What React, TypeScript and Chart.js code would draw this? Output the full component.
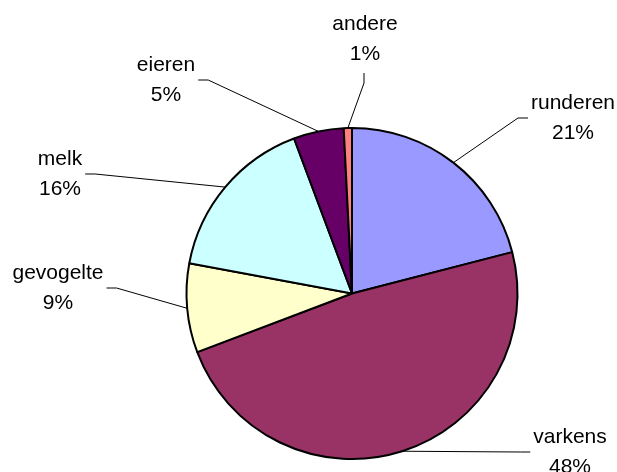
import React, { useEffect, useRef } from "react";
import { Chart, registerables } from "chart.js";

Chart.register(...registerables);

const categories = ["runderen", "varkens", "gevogelte", "melk", "eieren", "andere"];
const values = [21.0, 48.3, 8.7, 16.4, 4.9, 0.8];
const colors = ["#9999FF", "#993366", "#FFFFCC", "#CCFFFF", "#660066", "#FF8080"];

// label layout: center x, center y of the two-line block, side the leader leaves from
const labelLayout: Record<string, { cx: number; cy: number; side: "left" | "right" | "bottom" }> = {
  runderen: { cx: 573, cy: 118, side: "left" },
  varkens: { cx: 570, cy: 452, side: "left" },
  gevogelte: { cx: 58, cy: 288, side: "right" },
  melk: { cx: 60, cy: 174, side: "right" },
  eieren: { cx: 166, cy: 80, side: "right" },
  andere: { cx: 365, cy: 39, side: "bottom" },
};

const FONT = '21px "Liberation Sans", Arial, sans-serif';
const LINE_H = 30;

const labelPlugin = {
  id: "excelLabels",
  afterDatasetsDraw(chart: any) {
    const ctx = chart.ctx;
    const meta = chart.getDatasetMeta(0);
    const data = chart.data.datasets[0].data as number[];
    const total = data.reduce((a, b) => a + b, 0);
    ctx.save();
    ctx.font = FONT;
    ctx.fillStyle = "#000";
    ctx.strokeStyle = "#000";
    ctx.lineWidth = 1;
    ctx.textAlign = "center";
    ctx.textBaseline = "middle";
    meta.data.forEach((arc: any, i: number) => {
      const name = chart.data.labels[i];
      const lay = labelLayout[name];
      if (!lay) return;
      const p = arc.getProps(["x", "y", "startAngle", "endAngle", "outerRadius"], true);
      const mid = (p.startAngle + p.endAngle) / 2;
      const ax = p.x + Math.cos(mid) * p.outerRadius;
      const ay = p.y + Math.sin(mid) * p.outerRadius;
      const pct = Math.round((data[i] / total) * 100) + "%";
      const w = Math.max(ctx.measureText(name).width, ctx.measureText(pct).width);
      ctx.fillText(name, lay.cx, lay.cy - LINE_H / 2);
      ctx.fillText(pct, lay.cx, lay.cy + LINE_H / 2);
      let sx: number, sy: number, ex: number, ey: number;
      const gap = 3;
      const elbow = 10;
      if (lay.side === "left") {
        sx = lay.cx - w / 2 - gap;
        sy = lay.cy;
        ex = sx - elbow;
        ey = sy;
      } else if (lay.side === "right") {
        sx = lay.cx + w / 2 + gap;
        sy = lay.cy;
        ex = sx + elbow;
        ey = sy;
      } else {
        sx = lay.cx - 1;
        sy = lay.cy + LINE_H + 4;
        ex = sx;
        ey = sy + elbow;
      }
      ctx.beginPath();
      ctx.moveTo(sx, sy);
      ctx.lineTo(ex, ey);
      ctx.lineTo(ax, ay);
      ctx.stroke();
    });
    ctx.restore();
  },
};

export default function App() {
  const ref = useRef<HTMLCanvasElement | null>(null);
  useEffect(() => {
    if (!ref.current) return;
    const chart = new Chart(ref.current, {
      type: "pie",
      data: {
        labels: categories,
        datasets: [
          {
            data: values,
            backgroundColor: colors,
            borderColor: "#000",
            borderWidth: 2,
            radius: 165.5,
          } as any,
        ],
      },
      options: {
        responsive: false,
        animation: false,
        devicePixelRatio: 1,
        layout: { padding: { left: 87, right: 0, top: 115, bottom: 0 } },
        plugins: {
          legend: { display: false },
          tooltip: { enabled: false },
        },
      },
      plugins: [labelPlugin],
    });
    return () => chart.destroy();
  }, []);
  return (
    <div style={{ position: "absolute", left: 0, top: 0, width: 617, height: 472, background: "#fff" }}>
      <canvas ref={ref} width={617} height={472} style={{ width: 617, height: 472 }} />
    </div>
  );
}
